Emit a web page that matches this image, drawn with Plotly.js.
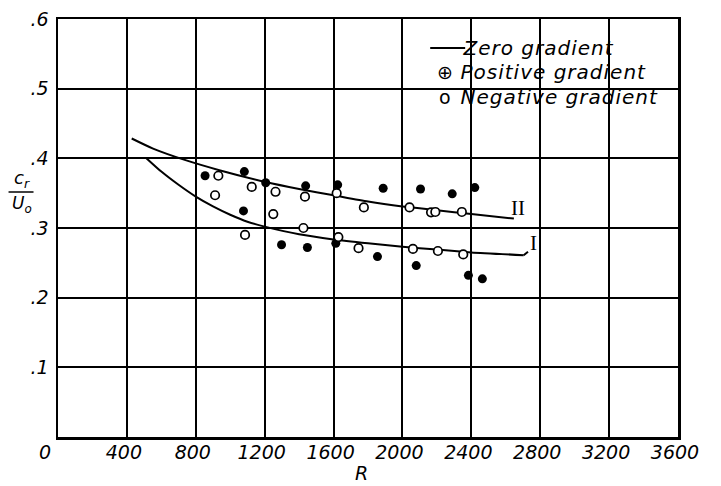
<!DOCTYPE html>
<html>
<head>
<meta charset="utf-8">
<script src="https://cdn.plot.ly/plotly-3.0.1.min.js"></script>
<style>
html, body { margin: 0; padding: 0; background: #fff; }
#chart { width: 721px; height: 486px; }
</style>
</head>
<body>
<div id="chart"></div>
<script>
// ---- data ----
// Zero-gradient curves
var curveII_R = [428, 552, 745, 937, 1206, 1400, 1600, 1800, 2000, 2200, 2400, 2647];
var curveII_c = [0.4285, 0.414, 0.397, 0.383, 0.366, 0.356, 0.347, 0.338, 0.331, 0.3255, 0.320, 0.3135];
var curveI_R = [510, 600, 700, 800, 900, 1000, 1100, 1200, 1400, 1600, 1800, 2000, 2200, 2400, 2704, 2729];
var curveI_c = [0.401, 0.381, 0.362, 0.345, 0.331, 0.319, 0.309, 0.302, 0.291, 0.2836, 0.278, 0.273, 0.269, 0.265, 0.261, 0.266];

// Positive gradient (filled)
var posR = [854, 1082, 1206, 1438, 1624, 1888, 2105, 2289, 2420, 1077, 1298, 1448, 1613, 1855, 2080, 2383, 2464];
var posC = [0.375, 0.381, 0.365, 0.3605, 0.362, 0.357, 0.356, 0.349, 0.358, 0.3245, 0.276, 0.272, 0.278, 0.259, 0.246, 0.232, 0.227];

// Negative gradient (open)
var negR = [931, 912, 1125, 1263, 1434, 1618, 1776, 1250, 1086, 1425, 1628, 1745, 2041, 2166, 2191, 2345, 2061, 2206, 2353];
var negC = [0.375, 0.347, 0.359, 0.352, 0.345, 0.350, 0.3295, 0.320, 0.290, 0.300, 0.287, 0.271, 0.3295, 0.3225, 0.323, 0.323, 0.270, 0.267, 0.262];

// Axis ticks
var xTickVals = [400, 800, 1200, 1600, 2000, 2400, 2800, 3200, 3600];
var xTickText = ['400', '800', '1200', '1600', '2000', '2400', '2800', '3200', '3600'];
var yTickVals = [0.1, 0.2, 0.3, 0.4, 0.5, 0.6];
var yTickText = ['.1', '.2', '.3', '.4', '.5', '.6'];

// Legend / label texts
var legendTexts = ['Zero gradient', 'Positive gradient', 'Negative gradient'];
var legendSymbols = ['\u2295', 'o'];

var F = 'DejaVu Sans, sans-serif';

var traces = [
  {x: curveII_R, y: curveII_c, mode: 'lines', line: {color: '#000', width: 2, shape: 'spline', smoothing: 0.6}, hoverinfo: 'skip', showlegend: false},
  {x: curveI_R.slice(0, curveI_R.length - 1), y: curveI_c.slice(0, curveI_c.length - 1), mode: 'lines', line: {color: '#000', width: 2, shape: 'spline', smoothing: 0.6}, hoverinfo: 'skip', showlegend: false},
  {x: curveI_R.slice(curveI_R.length - 2), y: curveI_c.slice(curveI_c.length - 2), mode: 'lines', line: {color: '#000', width: 2}, hoverinfo: 'skip', showlegend: false},
  {x: posR, y: posC, mode: 'markers', marker: {symbol: 'circle', size: 9, color: '#000', line: {width: 0}}, showlegend: false},
  {x: negR, y: negC, mode: 'markers', marker: {symbol: 'circle', size: 8.5, color: '#fff', line: {color: '#000', width: 1.7}}, showlegend: false}
];

var W = 620.5, H = 418, L = 57.5, T = 19;
function px(xp) { return (xp - L) / W; }
function py(yp) { return (T + H - yp) / H; }

function ann(xp, yp, text, font, xanchor) {
  return {xref: 'paper', yref: 'paper', x: px(xp), y: py(yp), xanchor: xanchor || 'center', yanchor: 'middle',
          text: text, showarrow: false, font: font};
}
var itl = function (s) { return {family: F, size: s, style: 'italic', color: '#000'}; };

var annotations = [
  // legend
  ann(467, 48, legendTexts[0], itl(20), 'left'),
  ann(445, 72, legendSymbols[0], {family: F, size: 19, color: '#000'}),
  ann(467, 72, legendTexts[1], itl(20), 'left'),
  ann(445, 97, legendSymbols[1], {family: F, size: 19, color: '#000'}),
  ann(467, 97, legendTexts[2], itl(20), 'left'),
  // origin 0
  ann(44, 452, '0', itl(19)),
  // axis titles
  ann(361, 473, 'R', itl(19)),
  ann(21, 179, 'c<sub>r</sub>', itl(18)),
  ann(21, 204, 'U<sub>o</sub>', itl(17)),
  // curve labels
  {xref: 'x', yref: 'y', x: 2672, y: 0.3285, xanchor: 'center', yanchor: 'middle', text: 'II', showarrow: false, font: {family: 'Liberation Serif, serif', size: 21, color: '#000'}},
  {xref: 'x', yref: 'y', x: 2760, y: 0.279, xanchor: 'center', yanchor: 'middle', text: 'I', showarrow: false, font: {family: 'Liberation Serif, serif', size: 21, color: '#000'}}
];

var shapes = [
  // white box behind legend (interrupts grid)
  {type: 'rect', xref: 'paper', yref: 'paper', x0: px(421), x1: px(665), y0: py(110), y1: py(33), fillcolor: '#fff', line: {width: 0}, layer: 'between'},
  // legend line sample
  {type: 'line', xref: 'paper', yref: 'paper', x0: px(430), x1: px(465), y0: py(48), y1: py(48), line: {color: '#000', width: 2}},
  // fraction bar
  {type: 'line', xref: 'paper', yref: 'paper', x0: px(8), x1: px(33), y0: py(192), y1: py(192), line: {color: '#000', width: 1.5}}
];

var layout = {
  width: 721, height: 486,
  margin: {l: L, r: 721 - L - W, t: T, b: 486 - T - H, pad: 0},
  paper_bgcolor: '#fff', plot_bgcolor: '#fff',
  showlegend: false,
  xaxis: {
    range: [0, 3600], tickvals: xTickVals, ticktext: xTickText, ticks: '',
    showgrid: true, gridcolor: '#000', gridwidth: 2, zeroline: false,
    showline: true, linecolor: '#000', linewidth: 2.5, mirror: true,
    tickfont: {family: F, size: 19, style: 'italic', color: '#000'}, ticklabelstandoff: -3, ticklabelshift: -3,
    fixedrange: true
  },
  yaxis: {
    range: [0, 0.6], tickvals: yTickVals, ticktext: yTickText, ticks: '',
    showgrid: true, gridcolor: '#000', gridwidth: 2, zeroline: false,
    showline: true, linecolor: '#000', linewidth: 2.5, mirror: true,
    tickfont: {family: F, size: 19, style: 'italic', color: '#000'}, ticklabelstandoff: 3,
    fixedrange: true
  },
  annotations: annotations,
  shapes: shapes
};

Plotly.newPlot('chart', traces, layout, {staticPlot: true, displayModeBar: false}).then(function () {
  document.querySelectorAll('.annotation-text').forEach(function (t) {
    if (t.textContent.indexOf('gradient') >= 0) t.style.letterSpacing = '1px';
  });
});
</script>
</body>
</html>
